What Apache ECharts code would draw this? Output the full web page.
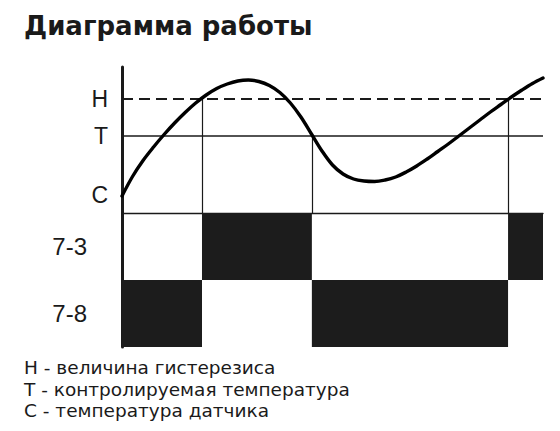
<!DOCTYPE html>
<html><head><meta charset="utf-8">
<script src="https://cdn.jsdelivr.net/npm/echarts@6/dist/echarts.min.js"></script>
<style>html,body{margin:0;padding:0;background:#fff}#c{width:560px;height:431px}</style>
</head><body><div id="c"></div>
<script>
// ---- data ----
const titleText = 'Диаграмма работы';
const curveX = [0, 2.5, 5, 7.5, 10, 12.5, 15, 17.5, 20, 22.5, 25, 27.5, 30, 32.5, 35, 37.5, 40, 42.5, 45, 47.5, 50,
  52.5, 55, 57.5, 60, 62.5, 65, 67.5, 70, 72.5, 75, 77.5, 80, 82.5, 85, 87.5, 90, 92.5, 95, 97.5, 100];
const curveY = [17, 36.5, 52.5, 66, 78.5, 90, 100.5, 110, 118, 124.5, 129, 132, 133, 131.5, 127.5, 120.5, 110, 96, 79, 62, 48,
  39, 34, 32, 31.5, 33, 36, 41, 47, 54, 61.5, 69, 77, 85, 93, 101, 108.5, 116, 123, 129.5, 135];
const levelNames = ['C', 'T', 'H'];
const levelValues = [18, 77, 114];
const switchX = [19, 45.1, 91.7];
const switchLevel = ['H', 'T', 'H'];
const relayRows = ['7-8', '7-3'];
const relay73On = [[19, 45.1], [91.7, 100]];
const relay78On = [[0, 19], [45.1, 91.7]];
const legendLines = ['H - величина гистерезиса', 'T - контролируемая температура', 'C - температура датчика'];

// ---- build ----
const FONT = "'Liberation Sans', Arial, sans-serif";
const WIDE = "'DejaVu Sans', 'Liberation Sans', sans-serif";
const INK = '#1a1a1a';
const levelOf = n => levelValues[levelNames.indexOf(n)];
const curveData = curveX.map((x, i) => [x, curveY[i]]);
const blocks = [];
relay73On.forEach(r => blocks.push([r[0], r[1], '7-3']));
relay78On.forEach(r => blocks.push([r[0], r[1], '7-8']));

const chart = echarts.init(document.getElementById('c'), null, {renderer: 'svg'});
chart.setOption({
  animation: false,
  backgroundColor: '#fff',
  title: {text: titleText, left: 19, top: 8,
    textStyle: {fontFamily: WIDE, fontSize: 26, fontWeight: 'bold', color: INK}},
  grid: [
    {left: 122, right: 17, top: 67, height: 146},
    {left: 122, right: 17, top: 213, height: 134}
  ],
  xAxis: [
    {gridIndex: 0, type: 'value', min: 0, max: 100, axisLine: {onZero: false, lineStyle: {color: INK, width: 1.3}},
      axisTick: {show: false}, axisLabel: {show: false}, splitLine: {show: false}},
    {gridIndex: 1, type: 'value', min: 0, max: 100, axisLine: {onZero: false, lineStyle: {color: INK, width: 3}},
      axisTick: {show: false}, axisLabel: {show: false}, splitLine: {show: false}}
  ],
  yAxis: [
    {gridIndex: 0, type: 'value', min: 0, max: 146,
      axisLine: {show: true, onZero: false, lineStyle: {color: INK, width: 3}},
      axisTick: {show: false}, splitLine: {show: false},
      axisLabel: {customValues: levelValues, margin: 14, fontFamily: FONT, fontSize: 23, color: INK,
        formatter: v => levelNames[levelValues.indexOf(v)] || ''}},
    {gridIndex: 1, type: 'category', data: relayRows,
      axisLine: {show: true, onZero: false, lineStyle: {color: INK, width: 3}},
      axisTick: {show: false}, splitLine: {show: false},
      axisLabel: {margin: 35, fontFamily: FONT, fontSize: 24, color: INK}}
  ],
  series: [
    {type: 'custom', xAxisIndex: 1, yAxisIndex: 1, data: blocks, encode: {x: [0, 1], y: 2}, silent: true,
      renderItem: (params, api) => {
        const p0 = api.coord([api.value(0), api.value(2)]);
        const p1 = api.coord([api.value(1), api.value(2)]);
        const h = api.size([0, 1])[1];
        return {type: 'rect', shape: {x: p0[0], y: p0[1] - h / 2, width: p1[0] - p0[0], height: h},
          style: {fill: '#1c1c1c'}};
      }},
    {type: 'line', xAxisIndex: 0, yAxisIndex: 0, data: [], z: 1, silent: true,
      markLine: {symbol: 'none', silent: true, label: {show: false}, animation: false,
        data: [
          [{coord: [0, levelOf('H')], lineStyle: {type: [11, 6], width: 2, color: INK}}, {coord: [100, levelOf('H')]}],
          [{coord: [0, levelOf('T')], lineStyle: {type: 'solid', width: 1.5, color: INK}}, {coord: [100, levelOf('T')]}]
        ].concat(switchX.map((x, i) => [
          {coord: [x, levelOf(switchLevel[i])], lineStyle: {type: 'solid', width: 1.2, color: INK}},
          {coord: [x, 0]}
        ]))}},
    {type: 'line', xAxisIndex: 0, yAxisIndex: 0, data: curveData, smooth: 0.35, showSymbol: false, z: 5,
      lineStyle: {color: '#000', width: 3.4, cap: 'round', join: 'round'}}
  ],
  graphic: legendLines.map((t, i) => ({
    type: 'text', left: 24, top: 358 + i * 21.5,
    style: {text: t, font: '18.5px ' + WIDE, fill: INK}
  }))
});
</script></body></html>
